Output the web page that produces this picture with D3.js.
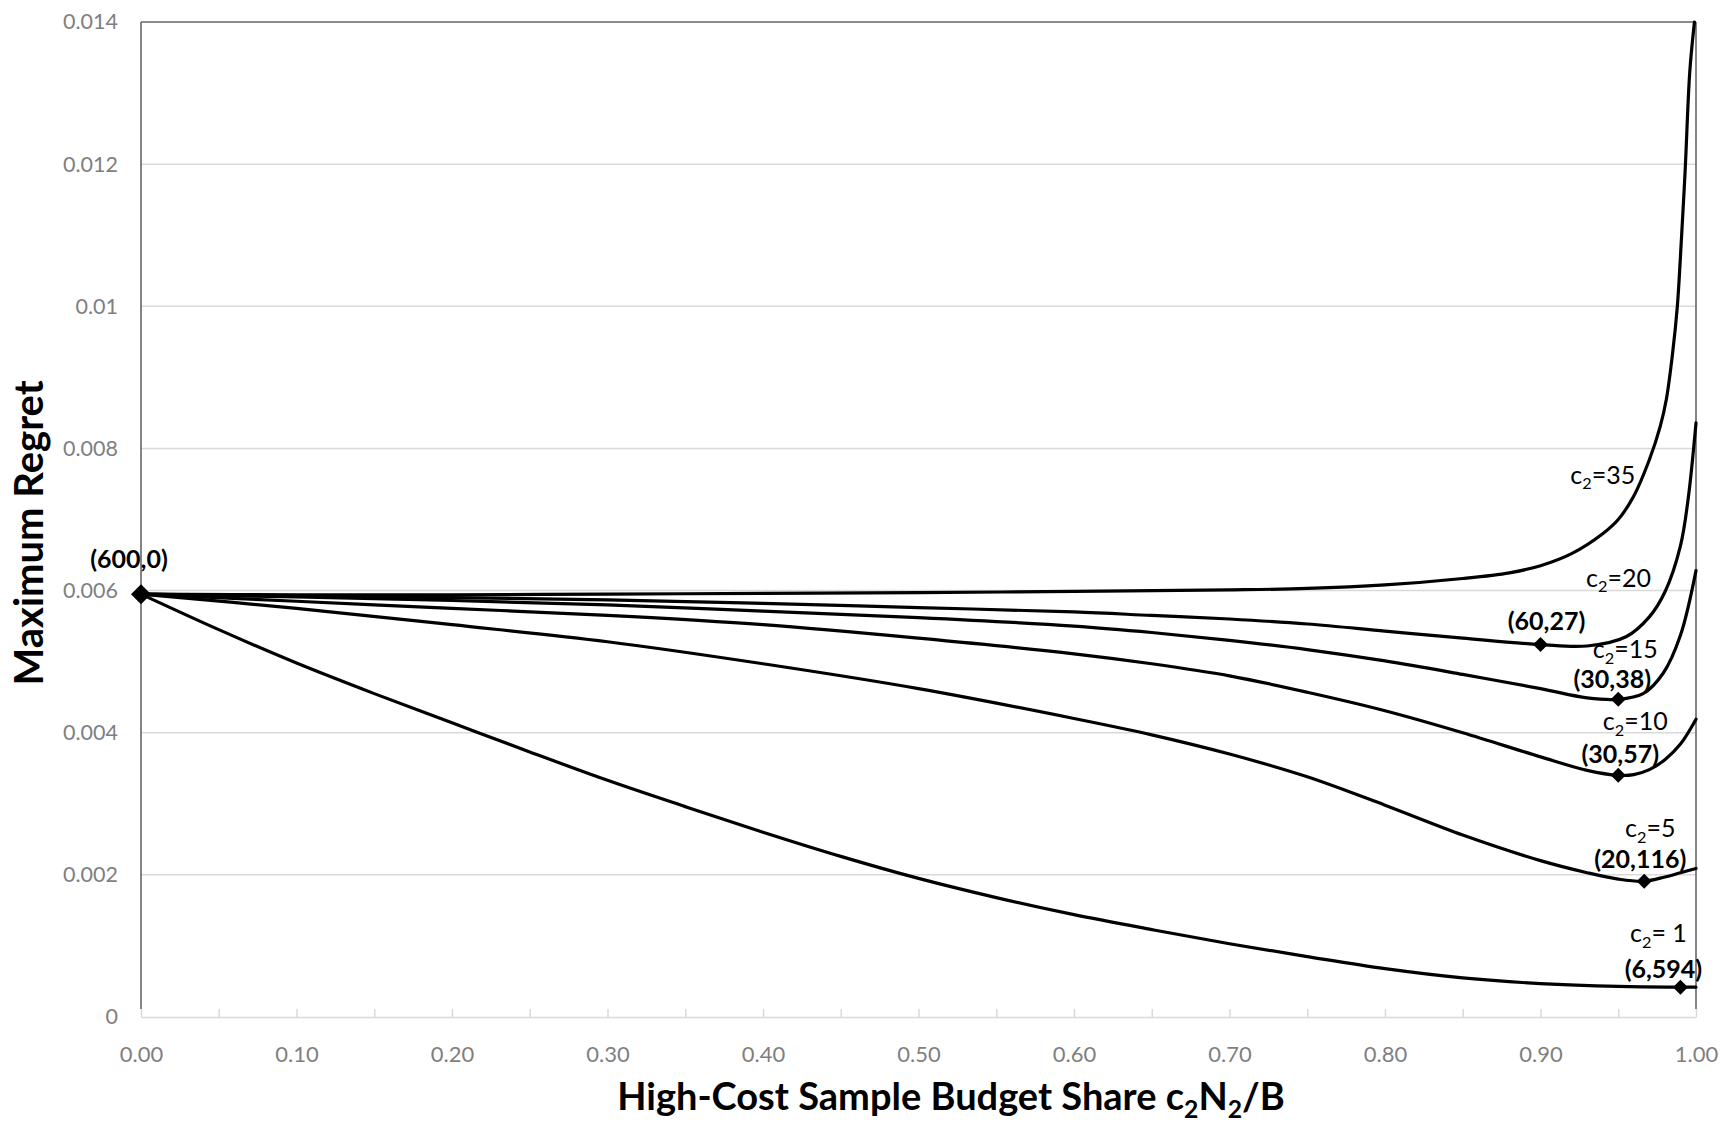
<!DOCTYPE html>
<html><head><meta charset="utf-8">
<script src="https://cdn.jsdelivr.net/npm/d3@7"></script>
<style>
html,body{margin:0;padding:0;background:#fff;}
svg{display:block;font-family:Lato,"Open Sans",sans-serif;}
</style></head><body>
<svg id="chart" width="1722" height="1124"></svg>
<script>
// ---------------- DATA ----------------
const yTickValues = [0, 0.002, 0.004, 0.006, 0.008, 0.010, 0.012, 0.014];
const yTickLabels = ["0", "0.002", "0.004", "0.006", "0.008", "0.01", "0.012", "0.014"];
const xTickValues = [0, 0.1, 0.2, 0.3, 0.4, 0.5, 0.6, 0.7, 0.8, 0.9, 1.0];
const xTickLabels = ["0.00", "0.10", "0.20", "0.30", "0.40", "0.50", "0.60", "0.70", "0.80", "0.90", "1.00"];

const c35X = [0, 0.1, 0.2, 0.3, 0.4, 0.5, 0.6, 0.7, 0.75, 0.8, 0.85, 0.88, 0.9, 0.92, 0.94, 0.95, 0.96, 0.97, 0.977, 0.981, 0.985, 0.988, 0.99, 0.993, 0.996, 0.999];
const c35Y = [0.00595, 0.00594, 0.00594, 0.00595, 0.00596, 0.00597, 0.00599, 0.00601, 0.00603, 0.00608, 0.00617, 0.00625, 0.00635, 0.00652, 0.00680, 0.00700, 0.00733, 0.00784, 0.00831, 0.00870, 0.00935, 0.01000, 0.01070, 0.01190, 0.01330, 0.01400];

const c20X = [0, 0.1, 0.2, 0.3, 0.4, 0.5, 0.6, 0.65, 0.7, 0.75, 0.8, 0.85, 0.9, 0.93, 0.955, 0.97, 0.98, 0.99, 0.995, 1.0];
const c20Y = [0.00595, 0.00592, 0.00590, 0.00587, 0.00582, 0.00576, 0.00570, 0.00565, 0.00560, 0.00553, 0.00543, 0.00533, 0.00524, 0.00522, 0.00535, 0.00563, 0.00598, 0.00663, 0.00730, 0.00836];

const c15X = [0, 0.1, 0.2, 0.3, 0.4, 0.5, 0.6, 0.65, 0.7, 0.75, 0.8, 0.85, 0.9, 0.93, 0.95, 0.966, 0.979, 0.99, 1.0];
const c15Y = [0.00595, 0.00591, 0.00586, 0.00580, 0.00571, 0.00562, 0.00550, 0.00541, 0.00530, 0.00517, 0.00501, 0.00482, 0.00462, 0.00449, 0.00447, 0.00455, 0.00484, 0.00537, 0.00628];

const c10X = [0, 0.1, 0.2, 0.3, 0.4, 0.5, 0.6, 0.65, 0.7, 0.75, 0.8, 0.85, 0.9, 0.93, 0.95, 0.96, 0.97, 0.98, 0.99, 1.0];
const c10Y = [0.00595, 0.00585, 0.00575, 0.00565, 0.00552, 0.00533, 0.00511, 0.00497, 0.00480, 0.00457, 0.00431, 0.00400, 0.00366, 0.00347, 0.00340, 0.00341, 0.00348, 0.00362, 0.00384, 0.00419];

const c5X = [0, 0.1, 0.2, 0.3, 0.4, 0.5, 0.6, 0.65, 0.7, 0.75, 0.8, 0.85, 0.9, 0.93, 0.95, 0.9667, 0.98, 0.99, 1.0];
const c5Y = [0.00595, 0.00575, 0.00552, 0.00528, 0.00497, 0.00462, 0.00420, 0.00397, 0.00370, 0.00338, 0.00298, 0.00256, 0.00220, 0.00203, 0.00194, 0.00191, 0.00197, 0.00203, 0.00209];

const c1X = [0, 0.05, 0.1, 0.15, 0.2, 0.25, 0.3, 0.35, 0.4, 0.45, 0.5, 0.55, 0.6, 0.65, 0.7, 0.75, 0.8, 0.85, 0.9, 0.95, 0.99, 1.0];
const c1Y = [0.00595, 0.00545, 0.00498, 0.00455, 0.00414, 0.00373, 0.00333, 0.00296, 0.00260, 0.00226, 0.00195, 0.00168, 0.00144, 0.00123, 0.00103, 0.00085, 0.00068, 0.00055, 0.00047, 0.00043, 0.00042, 0.00042];

const seriesNames = ["35", "20", "15", "10", "5", " 1"];

// optimum markers and their (N1,N2) labels
const markerX = [0, 0.90, 0.95, 0.95, 0.9667, 0.99];
const markerY = [0.00595, 0.00524, 0.00447, 0.00340, 0.00191, 0.00042];
const markerLabels = ["(600,0)", "(60,27)", "(30,38)", "(30,57)", "(20,116)", "(6,594)"];

// ---------------- LAYOUT ----------------
const svg = d3.select("#chart");
const x = d3.scaleLinear().domain([0, 1]).range([141, 1696]);
const y = d3.scaleLinear().domain([0, 0.014]).range([1017, 22]);
const GRID = "#d9d9d9", FRAME = "#666666", TICKTXT = "#7f7f7f";

// gridlines
svg.append("g").selectAll("line")
  .data(yTickValues.filter(v => v > 0 && v < 0.014))
  .join("line")
  .attr("x1", x(0)).attr("x2", x(1))
  .attr("y1", d => y(d)).attr("y2", d => y(d))
  .attr("stroke", GRID).attr("stroke-width", 1.5);

// bottom axis: minor ticks every 0.05 pointing inward
const minorTicks = d3.range(0, 21).map(i => i * 0.05);
const gx = svg.append("g").attr("transform", `translate(0,${y(0)})`)
  .call(d3.axisBottom(x).tickValues(minorTicks).tickSizeInner(-8).tickSizeOuter(0).tickFormat(""));
gx.select(".domain").attr("stroke", GRID).attr("stroke-width", 1.5);
gx.selectAll(".tick line").attr("stroke", GRID).attr("stroke-width", 1.5);

// x tick labels
const gxl = svg.append("g").attr("transform", `translate(0,${y(0)})`)
  .call(d3.axisBottom(x).tickValues(xTickValues).tickSize(0).tickPadding(29)
    .tickFormat((d, i) => xTickLabels[i]));
gxl.select(".domain").remove();
gxl.selectAll("text").attr("fill", TICKTXT).style("font-size", "22px").style("font-family", "Lato");

// y tick labels
const gyl = svg.append("g").attr("transform", `translate(${x(0)},0)`)
  .call(d3.axisLeft(y).tickValues(yTickValues).tickSize(0).tickPadding(23)
    .tickFormat((d, i) => yTickLabels[i]));
gyl.select(".domain").remove();
gyl.selectAll("text").attr("fill", TICKTXT).style("font-size", "21.5px").style("font-family", "Lato");

// frame: left, top, right
const frame = svg.append("g").attr("stroke", FRAME).attr("stroke-width", 1.6).attr("fill", "none");
frame.append("line").attr("x1", x(0)).attr("x2", x(0)).attr("y1", y(0.014)).attr("y2", y(0) - 8);
frame.append("line").attr("x1", x(1)).attr("x2", x(1)).attr("y1", y(0.014)).attr("y2", y(0) - 8);
frame.append("line").attr("x1", x(0)).attr("x2", x(1)).attr("y1", y(0.014)).attr("y2", y(0.014));

// series lines
const seriesData = [
  d3.zip(c35X, c35Y), d3.zip(c20X, c20Y), d3.zip(c15X, c15Y),
  d3.zip(c10X, c10Y), d3.zip(c5X, c5Y), d3.zip(c1X, c1Y)
];
const line = d3.line().x(d => x(d[0])).y(d => y(d[1])).curve(d3.curveCatmullRom.alpha(0.5));
svg.append("g").selectAll("path").data(seriesData).join("path")
  .attr("d", line).attr("fill", "none").attr("stroke", "#000")
  .attr("stroke-width", 3.2).attr("stroke-linejoin", "round").attr("stroke-linecap", "round");

// markers (diamonds)
const diamond = r => `M0,${-r}L${r},0L0,${r}L${-r},0Z`;
svg.append("g").selectAll("path").data(d3.zip(markerX, markerY)).join("path")
  .attr("transform", d => `translate(${x(d[0])},${y(d[1])})`)
  .attr("d", (d, i) => diamond(i === 0 ? 10 : 7.5)).attr("fill", "#000");

// marker labels (bold)
const mLabelOff = [[-12, -26], [6, -15], [-6, -11], [2, -12], [-4, -13], [-17, -9]];
svg.append("g").selectAll("text").data(markerLabels).join("text")
  .attr("x", (d, i) => x(markerX[i]) + mLabelOff[i][0])
  .attr("y", (d, i) => y(markerY[i]) + mLabelOff[i][1])
  .attr("text-anchor", "middle").attr("font-weight", "bold")
  .style("font-size", "25px").attr("fill", "#000").text(d => d);

// series labels c2=...
function subText(g, px, py, parts, fs, weight) {
  const t = g.append("text").attr("x", px).attr("y", py).attr("text-anchor", "middle")
    .style("font-size", fs + "px").attr("font-weight", weight || "normal").attr("fill", "#000");
  let shifted = false;
  parts.forEach(p => {
    const ts = t.append("tspan").text(p[0]);
    if (p[1]) { ts.style("font-size", (fs * 0.65) + "px").attr("dy", fs * 0.22); shifted = true; }
    else if (shifted) { ts.attr("dy", -fs * 0.22); shifted = false; }
  });
  return t;
}
const sLabelAnchor = [[0.94, 0.0075], [markerX[1], markerY[1]], [markerX[2], markerY[2]],
                      [markerX[3], markerY[3]], [markerX[4], markerY[4]], [markerX[5], markerY[5]]];
const sLabelOff = [[0, 0], [78, -58], [7, -41], [17, -45], [6, -44], [-22, -45]];
const gs = svg.append("g");
seriesNames.forEach((n, i) => {
  subText(gs, x(sLabelAnchor[i][0]) + sLabelOff[i][0], y(sLabelAnchor[i][1]) + sLabelOff[i][1],
    [["c", false], ["2", true], ["=" + n, false]], 25);
});

// axis titles
subText(svg, 951, 1110, [["High-Cost Sample Budget Share c", false], ["2", true], ["N", false], ["2", true], ["/B", false]], 38, "bold");
svg.append("text").attr("transform", "translate(43,533) rotate(-90)")
  .attr("text-anchor", "middle").attr("font-weight", "bold").style("font-size", "40px")
  .attr("fill", "#000").text("Maximum Regret");
</script>
</body></html>
